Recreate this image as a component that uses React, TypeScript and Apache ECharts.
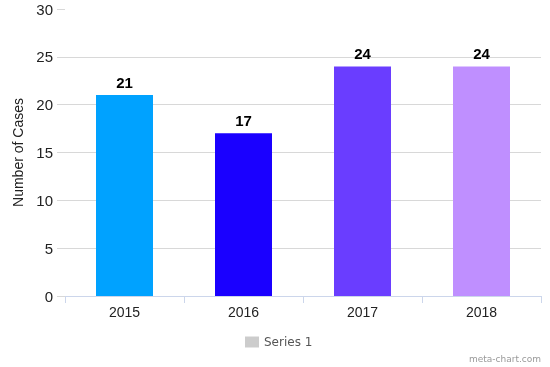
import React, { useEffect, useRef } from "react";
import * as echarts from "echarts";

const categories = ["2015", "2016", "2017", "2018"];
const values = [21, 17, 24, 24];
const barColors = ["#00a2ff", "#1a00ff", "#6a3dff", "#bf8fff"];
const seriesName = "Series 1";
const yAxisName = "Number of Cases";

export default function App() {
  const ref = useRef<HTMLDivElement>(null);
  useEffect(() => {
    const chart = echarts.init(ref.current!, null, { renderer: "svg" });
    const font = "'Liberation Sans', Arial, sans-serif";
    chart.setOption({
      animation: false,
      textStyle: { fontFamily: font },
      grid: { left: 65, right: 9, top: 9, bottom: 71 },
      legend: {
        left: 245,
        top: 336,
        padding: 0,
        itemWidth: 14,
        itemHeight: 11,
        itemGap: 5,
        icon: "rect",
        textStyle: { fontSize: 12, color: "#555", fontFamily: "'DejaVu Sans', sans-serif" },
        data: [seriesName],
      },
      xAxis: {
        type: "category",
        data: categories,
        axisLine: { lineStyle: { color: "#ccd6eb" } },
        axisTick: { show: true, length: 7, lineStyle: { color: "#ccd6eb" } },
        axisLabel: { fontSize: 14, color: "#222", margin: 9, fontFamily: font },
      },
      yAxis: {
        type: "value",
        min: 0,
        max: 30,
        interval: 5,
        name: yAxisName,
        nameLocation: "middle",
        nameGap: 39,
        nameTextStyle: { fontSize: 14, color: "#222", fontFamily: font },
        axisLine: { show: false },
        axisTick: { show: true, length: 8, lineStyle: { color: "#d8d8d8" } },
        axisLabel: { fontSize: 15, color: "#222", margin: 12, fontFamily: font },
        splitLine: { show: true, showMaxLine: false, lineStyle: { color: "#d8d8d8" } },
      },
      series: [
        {
          name: seriesName,
          type: "bar",
          barWidth: 57,
          itemStyle: { color: "#cccccc" },
          label: {
            show: true,
            position: "top",
            distance: 5,
            fontSize: 15,
            fontWeight: "bold",
            color: "#000",
            fontFamily: font,
          },
          data: values.map((v, i) => ({ value: v, itemStyle: { color: barColors[i] } })),
        },
      ],
      graphic: [
        {
          type: "text",
          right: 9,
          top: 354,
          style: {
            text: "meta-chart.com",
            fontSize: 9,
            fill: "#999",
            fontFamily: "'DejaVu Sans', sans-serif",
          },
        },
      ],
    });
    return () => chart.dispose();
  }, []);
  return <div ref={ref} style={{ width: 550, height: 367, position: "fixed", left: 0, top: 0 }} />;
}
